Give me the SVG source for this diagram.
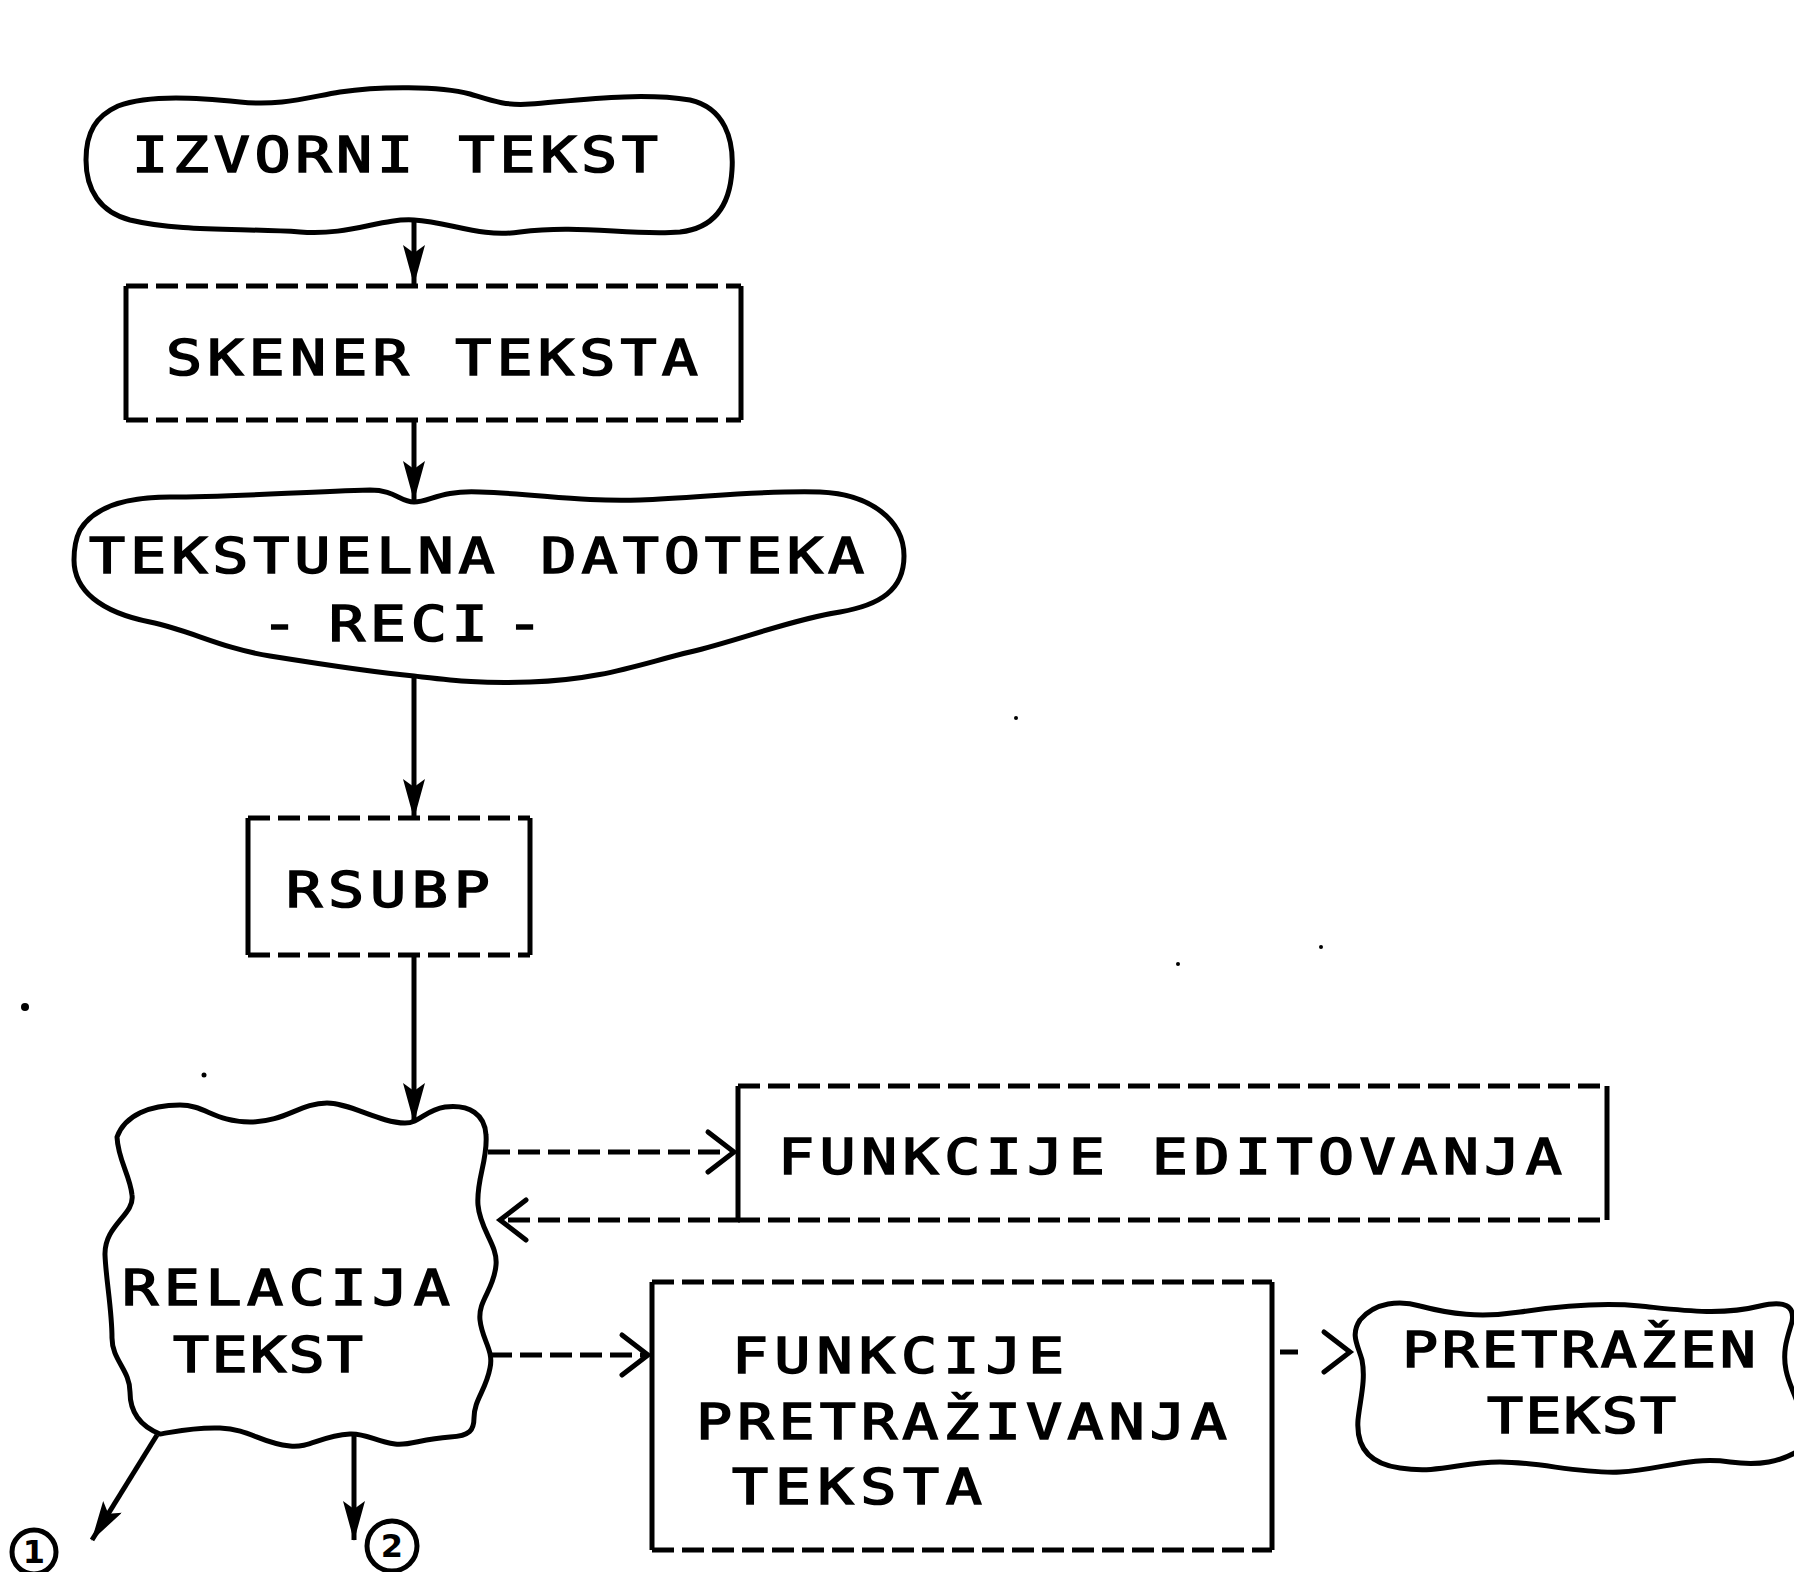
<svg xmlns="http://www.w3.org/2000/svg" width="1794" height="1572" viewBox="0 0 1794 1572">
<defs>
<style>
.bg{fill:#fff}
.cloud{fill:none;stroke:#000;stroke-width:5;stroke-linejoin:round}
.side{fill:none;stroke:#000;stroke-width:5}
.dash{fill:none;stroke:#000;stroke-width:5;stroke-dasharray:22 8}
.line{fill:none;stroke:#000;stroke-width:5}
.chev{fill:none;stroke:#000;stroke-width:5;stroke-linecap:round;stroke-linejoin:miter}
.t{font-family:"DejaVu Sans Mono","Liberation Mono",monospace;font-size:50px;font-weight:normal;fill:#000;stroke:#000;stroke-width:1.6}
.n{font-family:"DejaVu Sans","Liberation Sans",sans-serif;font-size:32px;font-weight:bold;fill:#000}
.speck{fill:#000}
</style>
<marker id="ah" viewBox="0 0 40 22" refX="39" refY="11" markerWidth="40" markerHeight="22" markerUnits="userSpaceOnUse" orient="auto">
<path d="M0,0 L40,11 L0,22 L8,11 Z" fill="#000"/>
</marker>
</defs>
<rect class="bg" x="0" y="0" width="1794" height="1572"/>

<g id="connectors">
<path class="line" d="M414,222 L414,284" marker-end="url(#ah)"/>
<path class="line" d="M414,420 L414,500" marker-end="url(#ah)"/>
<path class="line" d="M414,678 L414,818" marker-end="url(#ah)"/>
<path class="line" d="M414,955 L414,1122" marker-end="url(#ah)"/>
<path class="dash" d="M488,1152 L728,1152"/>
<polyline class="chev" points="708,1132 734,1152 708,1172"/>
<path class="dash" d="M508,1220 L740,1220"/>
<polyline class="chev" points="526,1200 500,1220 526,1240"/>
<path class="dash" d="M490,1355 L644,1355"/>
<polyline class="chev" points="622,1335 648,1355 622,1375"/>
<path class="line" d="M1280,1352 L1298,1352"/>
<polyline class="chev" points="1324,1332 1350,1352 1324,1372"/>
<path class="line" d="M157,1435 L92,1540" marker-end="url(#ah)"/>
<path class="line" d="M354,1434 L354,1540" marker-end="url(#ah)"/>
</g>

<g id="izvorni-tekst">
<path class="cloud" d="M118,106 C150,94 200,98 240,102 C280,106 305,98 340,92 C380,86 440,86 470,94 C490,100 505,106 530,104 C580,100 640,92 690,100 C725,108 734,140 732,170 C730,205 715,228 680,232 C630,236 580,224 520,232 C480,238 450,222 414,220 C380,218 350,236 300,232 C240,228 180,232 130,220 C100,212 86,190 86,160 C86,132 96,116 118,106 Z"/>
<text class="t" transform="scale(1.2,1)" x="110" y="172" textLength="438.3" lengthAdjust="spacing">IZVORNI TEKST</text>
</g>

<g id="skener-teksta">
<path class="side" d="M126,286 L126,420 M741,286 L741,420"/>
<path class="dash" d="M126,286 L741,286 M126,420 L741,420"/>
<text class="t" transform="scale(1.2,1)" x="138.3" y="375" textLength="443.3" lengthAdjust="spacing">SKENER TEKSTA</text>
</g>

<g id="tekstualna-datoteka">
<path class="cloud" d="M80,530 C95,505 130,497 170,497 C230,497 300,492 370,490 C395,490 400,502 414,502 C430,502 440,490 480,492 C540,494 580,502 640,500 C700,498 760,490 820,492 C870,494 904,520 904,556 C904,590 880,605 840,612 C790,620 740,640 690,652 C640,664 600,680 530,682 C480,684 450,680 414,676 C370,672 320,664 270,656 C220,648 190,630 150,622 C100,612 74,590 74,560 C74,545 76,538 80,530 Z"/>
<text class="t" transform="scale(1.2,1)" x="74.2" y="573" textLength="645.8" lengthAdjust="spacing">TEKSTUELNA DATOTEKA</text>
<text class="t" transform="scale(1.2,1)" y="641"><tspan x="218">-</tspan><tspan x="274" letter-spacing="4">RECI</tspan><tspan x="422">-</tspan></text>
</g>

<g id="rsubp">
<path class="side" d="M248,818 L248,955 M530,818 L530,955"/>
<path class="dash" d="M248,818 L530,818 M248,955 L530,955"/>
<text class="t" transform="scale(1.2,1)" x="238.3" y="907" textLength="170" lengthAdjust="spacing">RSUBP</text>
</g>

<g id="relacija-tekst">
<path class="cloud" d="M117,1137 C125,1115 150,1105 180,1105 C205,1105 215,1122 250,1122 C285,1122 300,1103 327,1103 C350,1103 380,1123 405,1123 C420,1123 425,1110 445,1107 C470,1104 485,1115 486,1135 C488,1160 476,1180 478,1205 C480,1230 498,1245 496,1265 C494,1290 478,1300 480,1320 C482,1340 494,1350 490,1368 C486,1390 474,1400 474,1418 C474,1430 470,1436 450,1437 C420,1439 410,1446 395,1444 C375,1441 365,1433 350,1434 C320,1436 310,1448 290,1446 C260,1443 250,1429 220,1428 C190,1427 170,1433 160,1434 C140,1426 130,1412 130,1392 C130,1370 112,1360 112,1338 C112,1310 106,1280 105,1255 C104,1225 135,1215 132,1195 C130,1175 118,1160 117,1137 Z"/>
<text class="t" transform="scale(1.2,1)" x="101.7" y="1305" textLength="273.3" lengthAdjust="spacing">RELACIJA</text>
<text class="t" transform="scale(1.2,1)" x="144.2" y="1372" textLength="158.3" lengthAdjust="spacing">TEKST</text>
</g>

<g id="funkcije-editovanja">
<path class="side" d="M738,1086 L738,1220 M1607,1086 L1607,1220"/>
<path class="dash" d="M738,1086 L1607,1086 M738,1220 L1607,1220"/>
<text class="t" transform="scale(1.2,1)" x="648.3" y="1174" textLength="653.3" lengthAdjust="spacing">FUNKCIJE EDITOVANJA</text>
</g>

<g id="funkcije-pretrazivanja">
<path class="side" d="M652,1282 L652,1550 M1272,1282 L1272,1550"/>
<path class="dash" d="M652,1282 L1272,1282 M652,1550 L1272,1550"/>
<text class="t" transform="scale(1.2,1)" x="610" y="1373" textLength="276.7" lengthAdjust="spacing">FUNKCIJE</text>
<text class="t" transform="scale(1.2,1)" x="580" y="1439" textLength="442.5" lengthAdjust="spacing">PRETRAŽIVANJA</text>
<text class="t" transform="scale(1.2,1)" x="610" y="1504" textLength="208.3" lengthAdjust="spacing">TEKSTA</text>
</g>

<g id="pretrazen-tekst">
<path class="cloud" d="M1360,1320 C1375,1302 1400,1300 1420,1306 C1450,1314 1480,1318 1520,1312 C1560,1306 1600,1302 1640,1306 C1680,1310 1720,1316 1760,1306 C1785,1300 1795,1306 1792,1322 C1788,1336 1782,1350 1786,1370 C1790,1390 1800,1400 1800,1420 L1800,1450 C1780,1462 1760,1466 1730,1462 C1690,1456 1660,1470 1620,1472 C1580,1474 1540,1462 1500,1462 C1460,1462 1440,1474 1400,1468 C1370,1464 1356,1448 1358,1420 C1360,1400 1366,1380 1362,1360 C1358,1345 1350,1335 1360,1320 Z"/>
<text class="t" transform="scale(1.2,1)" x="1168.3" y="1367" textLength="295" lengthAdjust="spacing">PRETRAŽEN</text>
<text class="t" transform="scale(1.2,1)" x="1239.2" y="1433" textLength="157.5" lengthAdjust="spacing">TEKST</text>
</g>

<g id="ref-1">
<circle class="line" cx="34" cy="1552" r="22"/>
<text class="n" x="34" y="1563" text-anchor="middle">1</text>
</g>
<g id="ref-2">
<circle class="line" cx="392" cy="1546" r="25"/>
<text class="n" x="392" y="1557" text-anchor="middle">2</text>
</g>

<g id="specks">
<circle class="speck" cx="25" cy="1007" r="4"/>
<circle class="speck" cx="1016" cy="718" r="2"/>
<circle class="speck" cx="1178" cy="964" r="2"/>
<circle class="speck" cx="1321" cy="947" r="2"/>
<circle class="speck" cx="204" cy="1075" r="2.5"/>
</g>
</svg>
